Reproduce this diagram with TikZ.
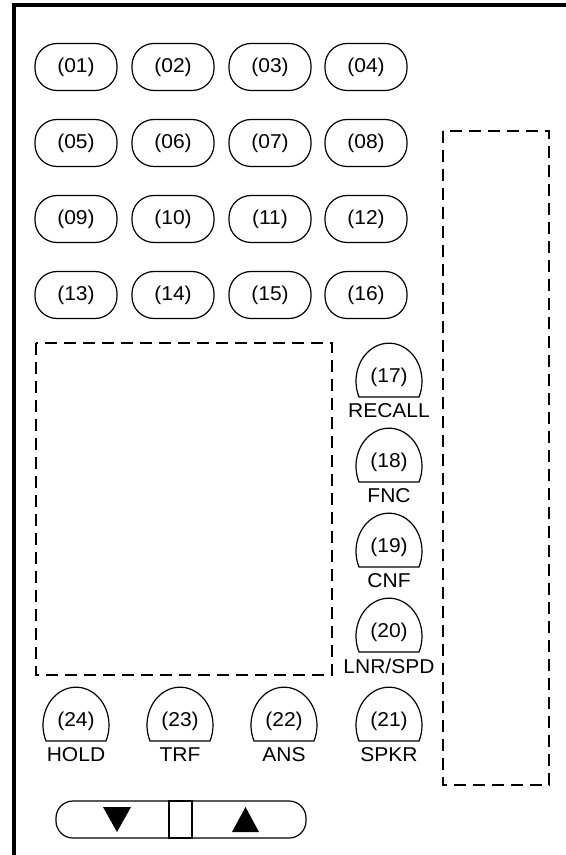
\documentclass[tikz,border=0pt]{standalone}
\usepackage{fontspec}
\setmainfont[FakeStretch=1.05]{Liberation Sans}
\usetikzlibrary{positioning}

\begin{document}
\begin{tikzpicture}[x=0.5pt, y=-0.5pt,
        every node/.style={font=\fontsize{10}{11}\selectfont, inner sep=0pt},
        key/.style={draw, line width=0.6pt, rounded corners=11pt, minimum width=41pt, minimum height=23.5pt},
        dome/.style={line width=0.6pt},
        panel/.style={line width=1.3pt, dash pattern=on 6pt off 3.5pt}]
            \useasboundingbox (0,0) rectangle (566,855);
            \draw[line width=1.6pt] (14,855) -- (14,5) -- (566,5);

            \node[key] (k01) at (76, 67) {(01)};
            \node[key] (k02) at (173, 67) {(02)};
            \node[key] (k03) at (270, 67) {(03)};
            \node[key] (k04) at (366, 67) {(04)};
            \node[key] (k05) at (76, 143) {(05)};
            \node[key] (k06) at (173, 143) {(06)};
            \node[key] (k07) at (270, 143) {(07)};
            \node[key] (k08) at (366, 143) {(08)};
            \node[key] (k09) at (76, 219) {(09)};
            \node[key] (k10) at (173, 219) {(10)};
            \node[key] (k11) at (270, 219) {(11)};
            \node[key] (k12) at (366, 219) {(12)};
            \node[key] (k13) at (76, 295) {(13)};
            \node[key] (k14) at (173, 295) {(14)};
            \node[key] (k15) at (270, 295) {(15)};
            \node[key] (k16) at (366, 295) {(16)};

            \draw[panel] (36, 343) rectangle (332, 675);
            \draw[panel] (443, 131) rectangle (549, 785);

            \draw[dome] (359, 397) arc[start angle=204.6, end angle=-24.6, x radius=16.5pt, y radius=19pt] -- cycle;
            \node (k17) at (389, 377) {(17)};
            \node (t17) at (389, 411) {RECALL};
            \draw[dome] (359, 482) arc[start angle=204.6, end angle=-24.6, x radius=16.5pt, y radius=19pt] -- cycle;
            \node (k18) at (389, 462) {(18)};
            \node (t18) at (389, 496) {FNC};
            \draw[dome] (359, 567) arc[start angle=204.6, end angle=-24.6, x radius=16.5pt, y radius=19pt] -- cycle;
            \node (k19) at (389, 547) {(19)};
            \node (t19) at (389, 581) {CNF};
            \draw[dome] (359, 652) arc[start angle=204.6, end angle=-24.6, x radius=16.5pt, y radius=19pt] -- cycle;
            \node (k20) at (389, 632) {(20)};
            \node (t20) at (389, 666) {LNR/SPD};

            \draw[dome] (359, 741) arc[start angle=204.6, end angle=-24.6, x radius=16.5pt, y radius=19pt] -- cycle;
            \node (k21) at (389, 721) {(21)};
            \node (t21) at (389, 755) {SPKR};
            \draw[dome] (254, 741) arc[start angle=204.6, end angle=-24.6, x radius=16.5pt, y radius=19pt] -- cycle;
            \node (k22) at (284, 721) {(22)};
            \node (t22) at (284, 755) {ANS};
            \draw[dome] (150, 741) arc[start angle=204.6, end angle=-24.6, x radius=16.5pt, y radius=19pt] -- cycle;
            \node (k23) at (180, 721) {(23)};
            \node (t23) at (180, 755) {TRF};
            \draw[dome] (46, 741) arc[start angle=204.6, end angle=-24.6, x radius=16.5pt, y radius=19pt] -- cycle;
            \node (k24) at (76, 721) {(24)};
            \node (t24) at (76, 755) {HOLD};

            \node[draw, line width=0.6pt, rounded corners=8.5pt, minimum width=125pt, minimum height=18.5pt] (bar) at (181, 819.5) {};
            \node[draw, line width=1.1pt, minimum width=11.5pt, minimum height=18.5pt] (knob) at (180.5, 819.5) {};
            \fill (103, 807) -- (131, 807) -- (117, 832) -- cycle;
            \fill (232, 832) -- (259, 832) -- (245.5, 807) -- cycle;
        \end{tikzpicture}
\end{document}
